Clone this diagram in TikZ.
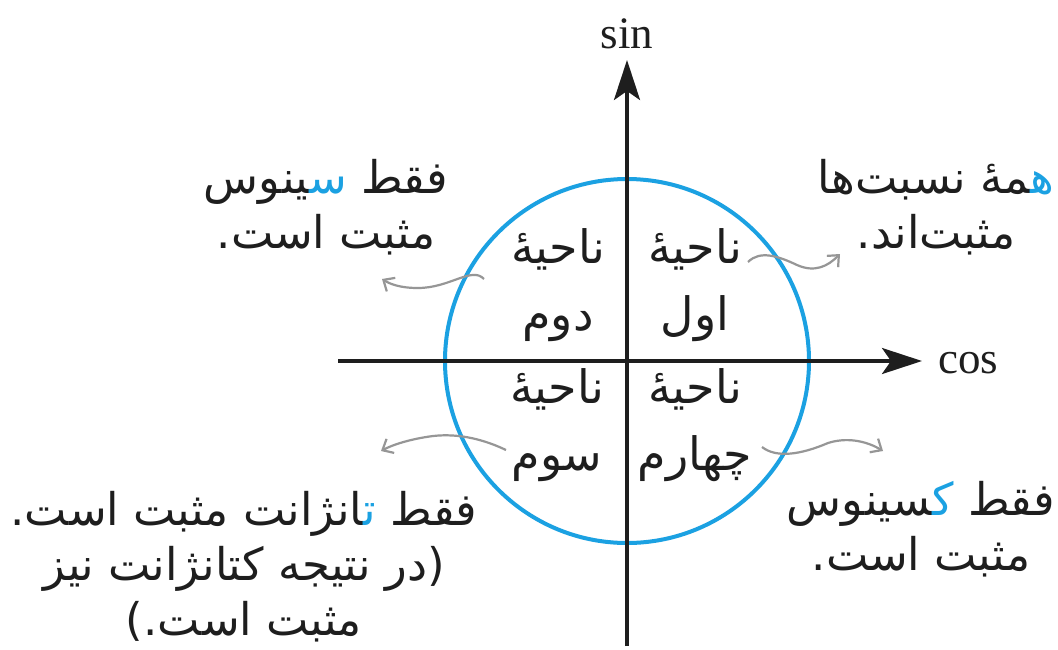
\documentclass[tikz,border=0pt]{standalone}
\usepackage{fontspec}
\usetikzlibrary{arrows.meta}
\TeXXeTstate=1
\newfontfamily\arabicfont[Script=Arabic]{DejaVu Sans}
\newfontfamily\latinserif{Liberation Serif}
\definecolor{skyc}{RGB}{27,161,226}
\definecolor{arrgray}{RGB}{150,150,150}
\definecolor{txt}{RGB}{30,30,30}
\newcommand{\rl}[1]{\beginR #1\endR}
\begin{document}
\begin{tikzpicture}[x=1pt,y=-1pt,
  axis/.style={line width=3.5pt, draw=txt, -{Stealth[length=40pt,width=26pt,inset=9pt]}},
  ring/.style={line width=4pt, draw=skyc},
  pointer/.style={line width=2.2pt, draw=arrgray, -{Straight Barb[length=9pt,width=16pt]}},
  quad/.style={font=\arabicfont\fontsize{46}{67}\selectfont, align=center, anchor=base, inner sep=0pt, text=txt},
  note/.style={font=\arabicfont\fontsize{45}{55}\selectfont, align=center, anchor=base, inner sep=0pt, text=txt},
  axlabel/.style={font=\latinserif\fontsize{45}{50}\selectfont, inner sep=0pt, text=txt}]
\useasboundingbox[fill=white] (0,0) rectangle (1058,649);
\coordinate (O) at (627,361);
\draw[ring] (O) circle[radius=182pt];
\coordinate (xl) at (338,361);
\coordinate (xr) at (922,361);
\coordinate (yb) at (627,646);
\coordinate (yt) at (627,60);
\draw[axis] (xl) -- (xr);
\draw[axis] (yb) -- (yt);
\node[axlabel, anchor=base] (sinlab) at (627,48) {sin};
\node[axlabel, anchor=base west] (coslab) at (938,373) {cos};
\node[quad] (q1) at (695,330) {\rl{ناحیه^^^^0654}\\\rl{اول}};
\node[quad] (q2) at (558,330) {\rl{ناحیه^^^^0654}\\\rl{دوم}};
\node[quad] (q3) at (557,470) {\rl{ناحیه^^^^0654}\\\rl{سوم}};
\node[quad] (q4) at (695,470) {\rl{ناحیه^^^^0654}\\\rl{چهارم}};
\node[note] (tl) at (326,248) {\rl{فقط \beginL ^^^^200dینوس{\color{skyc}س^^^^200d}\endL}\\\rl{مثبت است.}};
\node[note] (tr) at (936,248) {\rl{\beginL ^^^^200dمه^^^^0654{\color{skyc}ه^^^^200d}\endL{} نسبت^^^^200cها}\\\rl{مثبت^^^^200cاند.}};
\node[note] (bl) at (244,635) {\rl{فقط \beginL ^^^^200dانژانت{\color{skyc}ت^^^^200d}\endL{} مثبت است.}\\\rl{(در نتیجه کتانژانت نیز}\\\rl{مثبت است.)}};
\node[note] (br) at (921,570) {\rl{فقط \beginL ^^^^200dسینوس{\color{skyc}ک^^^^200d}\endL}\\\rl{مثبت است.}};
\coordinate (a1s) at (748,262);
\coordinate (a1e) at (840,254);
\draw[pointer] (a1s) .. controls (760,250) and (778,256) .. (797,265) .. controls (815,273) and (828,266) .. (a1e);
\coordinate (a2s) at (484,279);
\coordinate (a2e) at (382,279);
\draw[pointer] (a2s) .. controls (472,266) and (450,288) .. (418,288) .. controls (400,288) and (390,284) .. (a2e);
\coordinate (a3s) at (506,450);
\coordinate (a3e) at (381,451);
\draw[pointer] (a3s) .. controls (485,440) and (460,433) .. (433,436) .. controls (410,439) and (392,445) .. (a3e);
\coordinate (a4s) at (762,447);
\coordinate (a4e) at (883,451);
\draw[pointer] (a4s) .. controls (776,458) and (800,455) .. (828,443) .. controls (850,436) and (870,443) .. (a4e);
\end{tikzpicture}
\end{document}
